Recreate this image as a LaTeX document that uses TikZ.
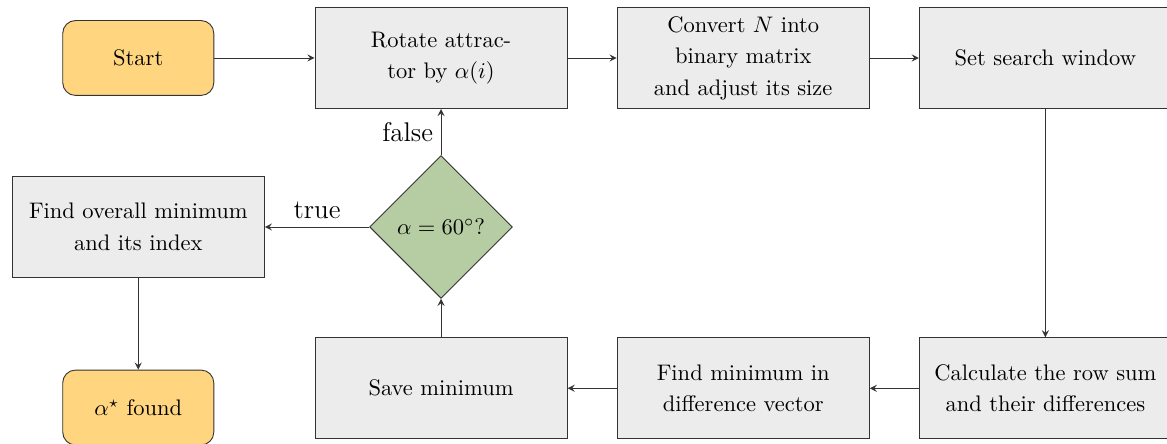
\documentclass[tikz,border=0pt]{standalone}
\usepackage{amsmath}
\usetikzlibrary{shapes.geometric, positioning}
\definecolor{termfill}{RGB}{255,213,128}
\definecolor{decfill}{RGB}{182,205,163}

\begin{document}
\begin{tikzpicture}[>=stealth, scale=1.0,
  proc/.style={rectangle, draw=black!80, fill=gray!15, minimum width=3.94cm,
    minimum height=1.58cm, align=center, font=\linespread{1.17}\selectfont},
  term/.style={rectangle, rounded corners=0.2cm, draw=black!80, fill=termfill,
    minimum width=2.36cm, minimum height=1.17cm},
  dec/.style={diamond, draw=black!80, fill=decfill, minimum width=2.23cm,
    minimum height=2.23cm, inner sep=0pt, aspect=1},
  flow/.style={->, draw=black!80}]
  \useasboundingbox (-6.89,-6.016) rectangle (11.34,0.906);
  % top row
  \node[term] (start) at (-4.73,0) {Start};
  \node[proc] (rot) at (0,0) {Rotate attrac-\\tor by $\alpha(i)$};
  \node[proc] (conv) at (4.72,0) {Convert $N$ into\\binary matrix\\and adjust its size};
  \node[proc] (win) at (9.44,0) {Set search window};
  % middle row
  \node[dec] (check) at (0,-2.64) {$\alpha=60^\circ?$};
  \node[proc] (overall) at (-4.73,-2.64) {Find overall minimum\\and its index};
  % bottom row
  \node[term] (found) at (-4.73,-5.46) {$\alpha^\star$ found};
  \node[proc] (save) at (0,-5.16) {Save minimum};
  \node[proc] (diff) at (4.72,-5.16) {Find minimum in\\difference vector};
  \node[proc] (rows) at (9.44,-5.16) {Calculate the row sum\\and their differences};
  % connectors
  \draw[flow] (start) -- (rot);
  \draw[flow] (rot) -- (conv);
  \draw[flow] (conv) -- (win);
  \draw[flow] (win) -- (rows);
  \draw[flow] (rows) -- (diff);
  \draw[flow] (diff) -- (save);
  \draw[flow] (save) -- (check);
  \draw[flow] (check) -- node[left, font=\large] {false} (rot);
  \draw[flow] (check) -- node[above, font=\large] {true} (overall);
  \draw[flow] (overall) -- (found);
\end{tikzpicture}
\end{document}
